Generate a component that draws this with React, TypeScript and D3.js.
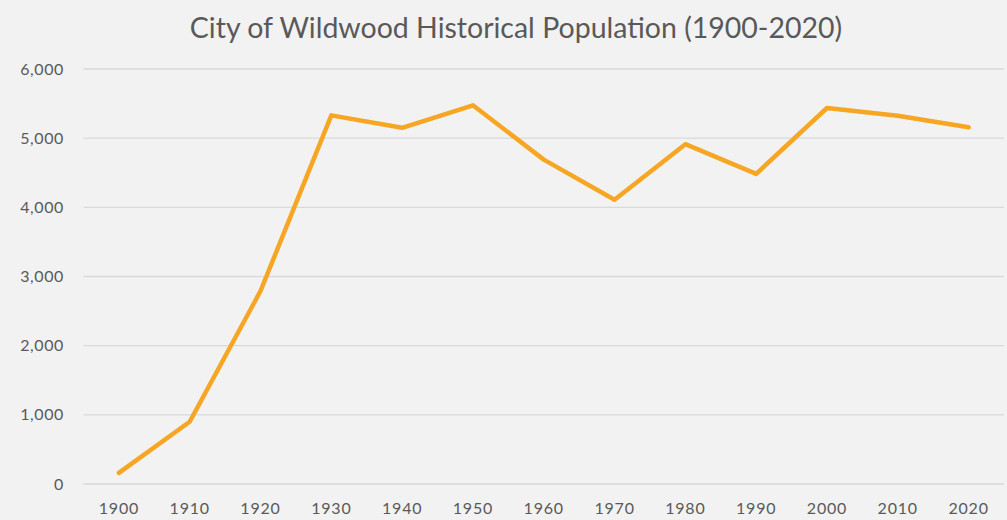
import React, { useEffect, useRef } from 'react';
import * as d3 from 'd3';

const years = ['1900', '1910', '1920', '1930', '1940', '1950', '1960', '1970', '1980', '1990', '2000', '2010', '2020'];
const population = [160, 900, 2790, 5330, 5150, 5475, 4690, 4110, 4913, 4484, 5436, 5325, 5157];
const yTicks = [0, 1000, 2000, 3000, 4000, 5000, 6000];

const App: React.FC = () => {
  const svgRef = useRef<SVGSVGElement>(null);

  useEffect(() => {
    if (!svgRef.current) return;
    const svg = d3.select(svgRef.current);
    svg.selectAll('*').remove();

    const width = 1007;
    const height = 520;
    const font = 'Lato, "Open Sans", sans-serif';

    svg.append('rect').attr('width', width).attr('height', height).attr('fill', '#f2f2f2');

    const x = d3.scaleBand().domain(years).range([83.5, 1004]).padding(0);
    const y = d3.scaleLinear().domain([0, 6000]).range([484, 69]);
    const cx = (d: string) => x(d)! + x.bandwidth() / 2;

    // title
    svg.append('text')
      .attr('x', 516)
      .attr('y', 38)
      .attr('text-anchor', 'middle')
      .attr('fill', '#595959')
      .attr('font-family', font)
      .attr('font-size', '28.5px')
      .text('City of Wildwood Historical Population (1900-2020)');

    // gridlines
    svg.selectAll('.grid')
      .data(yTicks)
      .enter()
      .append('line')
      .attr('x1', 83.5)
      .attr('x2', 1004)
      .attr('y1', d => y(d))
      .attr('y2', d => y(d))
      .attr('stroke', '#d9d9d9')
      .attr('stroke-width', 1.3);

    // y labels
    svg.selectAll('.ylab')
      .data(yTicks)
      .enter()
      .append('text')
      .attr('x', 64)
      .attr('y', d => y(d))
      .attr('dy', '0.35em')
      .attr('text-anchor', 'end')
      .attr('fill', '#595959')
      .attr('font-family', font)
      .attr('font-size', '16px')
      .attr('letter-spacing', '0.6px')
      .text(d => d3.format(',')(d));

    // x labels
    svg.selectAll('.xlab')
      .data(years)
      .enter()
      .append('text')
      .attr('x', d => cx(d))
      .attr('y', 514)
      .attr('text-anchor', 'middle')
      .attr('fill', '#595959')
      .attr('font-family', font)
      .attr('font-size', '16px')
      .attr('letter-spacing', '0.8px')
      .text(d => d);

    const line = d3.line<number>()
      .x((_, i) => cx(years[i]))
      .y(d => y(d));

    svg.append('path')
      .datum(population)
      .attr('d', line)
      .attr('fill', 'none')
      .attr('stroke', '#f6a623')
      .attr('stroke-width', 4.5)
      .attr('stroke-linejoin', 'round')
      .attr('stroke-linecap', 'round');
  }, []);

  return (
    <svg
      ref={svgRef}
      width={1007}
      height={520}
      style={{ position: 'absolute', left: 0, top: 0, display: 'block' }}
    />
  );
};

export default App;
